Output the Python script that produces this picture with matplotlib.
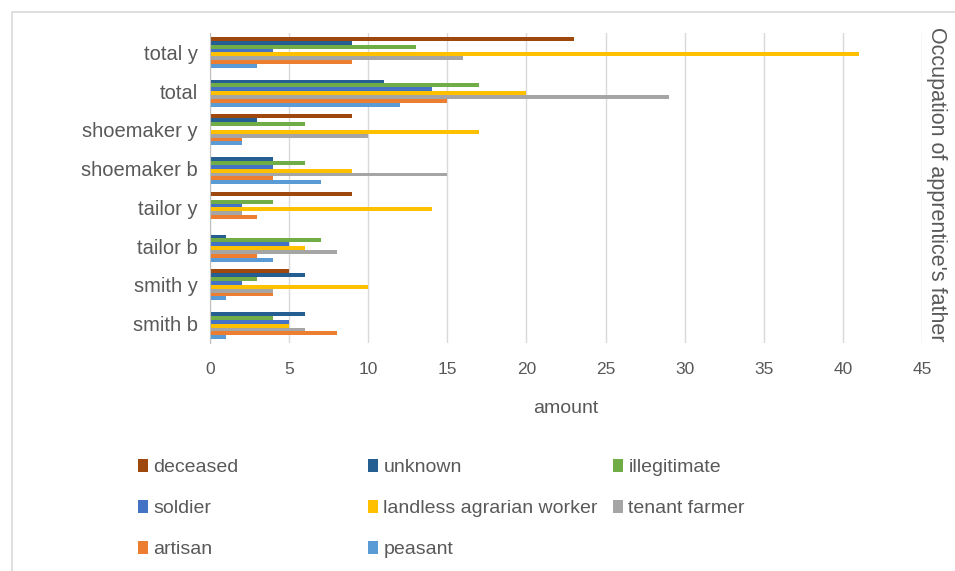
import numpy as np
import matplotlib
matplotlib.use('Agg')
import matplotlib.pyplot as plt
from matplotlib.patches import Patch, Rectangle

# categories, listed top to bottom as they appear in the chart
categories = ['total y', 'total', 'shoemaker y', 'shoemaker b',
              'tailor y', 'tailor b', 'smith y', 'smith b']

# one list per series, same order as categories
deceased     = [23, 0, 9, 0, 9, 0, 5, 0]
unknown      = [9, 11, 3, 4, 0, 1, 6, 6]
illegitimate = [13, 17, 6, 6, 4, 7, 3, 4]
soldier      = [4, 14, 0, 4, 2, 5, 2, 5]
landless     = [41, 20, 17, 9, 14, 6, 10, 5]
tenant       = [16, 29, 10, 15, 2, 8, 4, 6]
artisan      = [9, 15, 2, 4, 3, 3, 4, 8]
peasant      = [3, 12, 2, 7, 0, 4, 1, 1]

series_names = ['deceased', 'unknown', 'illegitimate', 'soldier',
                'landless agrarian worker', 'tenant farmer', 'artisan', 'peasant']
series_vals = [deceased, unknown, illegitimate, soldier, landless, tenant, artisan, peasant]
colors = ['#9E480E', '#255E91', '#70AD47', '#4472C4',
          '#FFC000', '#A5A5A5', '#ED7D31', '#5B9BD5']

plt.rcParams['font.family'] = ['Liberation Sans', 'DejaVu Sans']
text_col = '#595959'

fig = plt.figure(figsize=(9.55, 5.71), dpi=100)
ax = fig.add_axes([210 / 955, 1 - 343 / 571, 712 / 955, 310 / 571])

n_cat = len(categories)
n_ser = len(series_names)
bar_h = 0.1
centers = np.arange(n_cat)[::-1].astype(float)  # top category gets highest y

for i, (name, vals, c) in enumerate(zip(series_names, series_vals, colors)):
    offset = (n_ser - 1) / 2 * bar_h - i * bar_h
    ax.barh(centers + offset, vals, height=bar_h, color=c, label=name, zorder=3)

ax.set_xlim(0, 45)
ax.set_ylim(-0.5, n_cat - 0.5)
ax.set_xticks(np.arange(0, 46, 5))
ax.set_yticks(centers)
ax.set_yticklabels(categories)
ax.tick_params(axis='x', length=0, pad=14, labelsize=12.5, labelcolor=text_col)
ax.tick_params(axis='y', length=0, pad=9, labelsize=14.5, labelcolor=text_col)
ax.grid(axis='x', color='#D9D9D9', linewidth=1, zorder=0)
for s in ['top', 'right', 'bottom']:
    ax.spines[s].set_visible(False)
ax.spines['left'].set_color('#BFBFBF')
ax.spines['left'].set_zorder(4)

ax.set_xlabel('amount', fontsize=14, color=text_col, labelpad=16)
fig.text(936 / 955, 1 - 184 / 571, "Occupation of apprentice's father", rotation=270,
         ha='center', va='center', fontsize=15.5, color=text_col)

# legend: three columns laid out row by row like the original
col_x = [130 / 955, 360 / 955, 605 / 955]
for col in range(3):
    idx = [k for k in range(n_ser) if k % 3 == col]
    handles = [Patch(facecolor=colors[k], label=series_names[k]) for k in idx]
    fig.legend(handles=handles, loc='upper left', bbox_to_anchor=(col_x[col], 1 - 451 / 571),
               frameon=False, fontsize=14, labelcolor=text_col, handlelength=0.5,
               handleheight=0.7, handletextpad=0.3, labelspacing=1.2, borderaxespad=0)

# chart area border
fig.add_artist(Rectangle((12 / 955, -0.02), 1.0, 1 - 12 / 571 + 0.02, transform=fig.transFigure,
                         fill=False, edgecolor='#D9D9D9', linewidth=1.2))

fig.savefig('out.png', dpi=100, facecolor='white')
